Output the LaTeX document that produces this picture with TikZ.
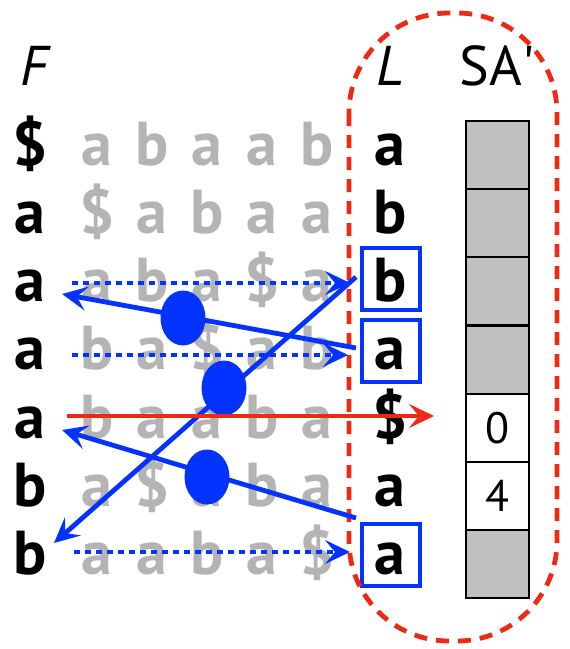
\documentclass[tikz,border=0pt]{standalone}
\usepackage{fontspec}
\setmainfont{PT Sans}
\usetikzlibrary{arrows.meta,shapes.geometric}
\definecolor{myblue}{HTML}{0433FF}
\definecolor{myred}{HTML}{EE2A15}
\definecolor{mygray}{HTML}{B4B4B4}
\definecolor{boxgray}{HTML}{C0C0C0}
\tikzset{
  big/.style={font=\fontsize{62}{66}\selectfont\bfseries, anchor=base, inner sep=0pt},
  gr/.style={big, text=mygray},
  head/.style={font=\fontsize{56}{60}\selectfont, anchor=base, inner sep=0pt},
  headit/.style={head, font=\fontsize{56}{60}\selectfont\itshape},
  sabox/.style={draw=black, line width=2.2pt, minimum width=63pt, minimum height=68.2pt, inner sep=0pt, anchor=north west, font=\fontsize{44}{48}\selectfont},
  bluebox/.style={draw=myblue, line width=4.5pt, minimum width=58pt, minimum height=62pt, inner sep=0pt},
  tip/.style={-{Stealth[length=25pt,width=24pt,inset=10pt]}},
  blu/.style={myblue, line width=4.8pt, tip},
  dotblu/.style={blu, dash pattern=on 6pt off 5pt},
  dot/.style={ellipse, fill=myblue, minimum width=45pt, minimum height=55pt, inner sep=0pt},
}
\begin{document}
\begin{tikzpicture}[x=1pt,y=-1pt]
\useasboundingbox (0,0) rectangle (570,649);
% headers
\node[headit] (hF) at (34,85) {F};
\node[headit] (hL) at (390,85) {L};
\node[head] (hSA) at (497,85) {SA\textquotesingle};
% rows
\foreach \r/\f/\ga/\gb/\gc/\gd/\ge/\l in {
  1/\$/a/b/a/a/b/a,
  2/a/\$/a/b/a/a/b,
  3/a/a/b/a/\$/a/b,
  4/a/b/a/\$/a/b/a,
  5/a/b/a/a/b/a/\$,
  6/b/a/\$/a/b/a/a,
  7/b/a/a/b/a/\$/a}{
  \pgfmathsetmacro\yy{165+68.3*(\r-1)}
  \node[big] (f\r) at (30,\yy) {\f};
  \node[gr] (g\r a) at (97,\yy) {\ga};
  \node[gr] (g\r b) at (152,\yy) {\gb};
  \node[gr] (g\r c) at (207,\yy) {\gc};
  \node[gr] (g\r d) at (262,\yy) {\gd};
  \node[gr] (g\r e) at (317,\yy) {\ge};
  \node[big] (l\r) at (390,\yy) {\l};
}
% SA column
\foreach \r in {1,2,3,4,7}{
  \node[sabox, fill=boxgray] (s\r) at (465,{120+68.14*(\r-1)}) {};
}
\node[sabox, fill=white] (s5) at (465,{120+68.14*4}) {0};
\node[sabox, fill=white] (s6) at (465,{120+68.14*5}) {4};
% blue boxes
\node[bluebox] (b3) at (391,279) {};
\node[bluebox] (b4) at (391,351) {};
\node[bluebox] (b7) at (391,555) {};
% red dashed region
\draw[myred, line width=4.8pt, dash pattern=on 13pt off 9pt, rounded corners=100pt] (349,13) rectangle (557,641);
% dotted arrows
\coordinate (d3s) at (72,283);
\coordinate (d3e) at (350,283);
\coordinate (d4s) at (72,355);
\coordinate (d4e) at (348,355);
\coordinate (d7s) at (74,552);
\coordinate (d7e) at (350,552);
\draw[dotblu] (d3s) -- (d3e);
\draw[dotblu] (d4s) -- (d4e);
\draw[dotblu] (d7s) -- (d7e);
% solid arrows
\coordinate (a1s) at (356,348);
\coordinate (a1e) at (62,294);
\coordinate (a2s) at (356,277);
\coordinate (a2e) at (54,543);
\coordinate (a3s) at (356,518);
\coordinate (a3e) at (62,430);
\draw[blu] (a1s) -- (a1e);
\draw[blu] (a2s) -- (a2e);
\draw[blu] (a3s) -- (a3e);
\node[dot] (e1) at (183,318) {};
\node[dot] (e2) at (224,388) {};
\node[dot] (e3) at (207,477) {};
% red arrow
\coordinate (rs) at (67,416);
\coordinate (re) at (434,416);
\draw[myred, line width=4.5pt, -{Stealth[length=25pt,width=24pt,inset=10pt]}] (rs) -- (re);
\end{tikzpicture}
\end{document}
